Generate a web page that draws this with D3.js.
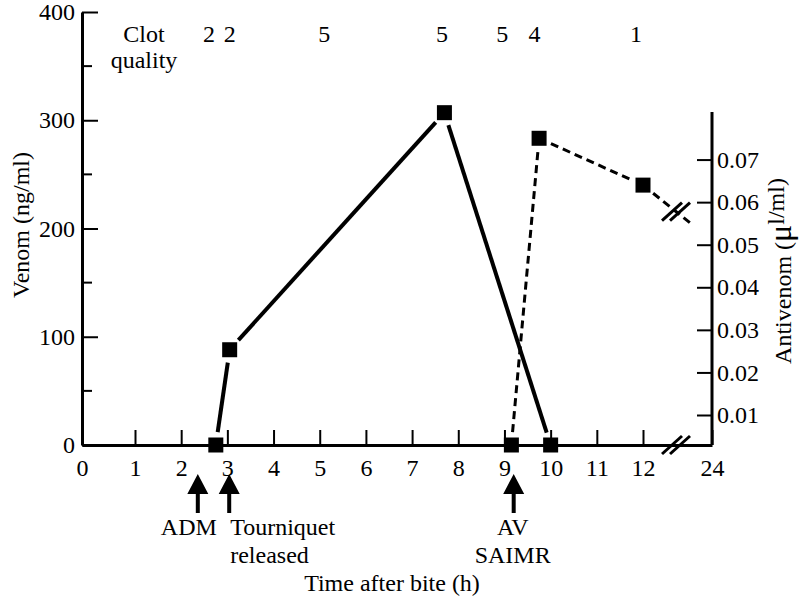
<!doctype html>
<html>
<head>
<meta charset="utf-8"/>
<title>Venom and antivenom</title>
<script src="https://d3js.org/d3.v7.min.js"></script>
<style>
body { margin: 0; background: white; }
svg text { font-family: "Liberation Serif", "Times New Roman", serif; fill: black; }
</style>
</head>
<body>
<svg id="svg1"></svg>
<script>
// data
const venomTime = [2.75, 3.05, 7.7, 10.0]
const venomValue = [0, 88, 307, 0]
const avTime = [9.15, 9.75, 12, 24]
const avValue = [0, 0.075, 0.064, 0.051]   // last point is off the drawn part
const clotTime = [2.6, 3.05, 5.1, 7.65, 8.95, 9.65, 11.85]
const clotScore = ['2', '2', '5', '5', '5', '4', '1']
const eventTime = [2.36, 3.04, 9.2]
const eventLabel = [['ADM'], ['Tourniquet', 'released'], ['AV', 'SAIMR']]
const xTicks = [0, 1, 2, 3, 4, 5, 6, 7, 8, 9, 10, 11, 12, 24]
const yTicks = [0, 100, 200, 300, 400]
const yMinor = [50, 150, 250, 350]
const avTicks = [0.01, 0.02, 0.03, 0.04, 0.05, 0.06, 0.07]

const width = 804
const height = 597
const fs = 24
const serif = '"Liberation Serif", "Times New Roman", serif'

const svg = d3.select('#svg1')
    .attr('width', width)
    .attr('height', height)
    .attr('font-family', serif)

// x axis has a break between 12 and 24 h
const x = d3.scaleLinear().domain([0, 1, 12, 24]).range([82, 135, 643, 712])
const y = d3.scaleLinear().domain([0, 400]).range([445, 12])
const yR = d3.scaleLinear().domain([0, 0.01, 0.08]).range([445, 415, 117])

function styleAxis(g) {
    g.attr('font-family', serif).attr('font-size', fs)
    g.selectAll('.tick line').attr('stroke-width', 2)
    g.select('.domain').attr('stroke-width', 3)
}

// left axis
svg.append('g')
    .attr('transform', `translate(${x(0)},0)`)
    .call(d3.axisLeft(y).tickValues(yTicks).tickSizeInner(-16).tickSizeOuter(0).tickPadding(7))
    .call(styleAxis)
svg.append('g').selectAll('line').data(yMinor).join('line')
    .attr('x1', x(0)).attr('x2', x(0) + 10)
    .attr('y1', d => y(d)).attr('y2', d => y(d))
    .attr('stroke', 'black').attr('stroke-width', 2)

// bottom axis
svg.append('g')
    .attr('transform', `translate(0,${y(0)})`)
    .call(d3.axisBottom(x).tickValues(xTicks).tickFormat(d3.format('d')).tickSizeInner(-15).tickSizeOuter(0).tickPadding(14))
    .call(styleAxis)

// right axis (antivenom)
const gR = svg.append('g')
    .attr('transform', `translate(${x(24)},0)`)
    .call(d3.axisRight(yR).tickValues(avTicks).tickFormat(d3.format('.2f')).tickSizeInner(-15).tickSizeOuter(0).tickPadding(5))
    .call(styleAxis)
gR.select('.domain').remove()
gR.append('line')
    .attr('x1', 0).attr('x2', 0)
    .attr('y1', yR(0)).attr('y2', 112)
    .attr('stroke', 'black').attr('stroke-width', 3)

// break marks
function breakMark(cx, cy) {
    for (const off of [-4, 4]) {
        svg.append('line')
            .attr('x1', cx + off - 10).attr('y1', cy + 9)
            .attr('x2', cx + off + 10).attr('y2', cy - 9)
            .attr('stroke', 'black').attr('stroke-width', 3)
    }
}
breakMark(676, y(0))

// segments between markers, with a gap round each marker
function segments(xs, ys, pad0, pad1) {
    const out = []
    for (let i = 0; i < xs.length - 1; i++) {
        const x0 = xs[i], y0 = ys[i], x1 = xs[i + 1], y1 = ys[i + 1]
        const len = Math.hypot(x1 - x0, y1 - y0)
        const ux = (x1 - x0) / len, uy = (y1 - y0) / len
        const e = i === xs.length - 2 ? pad1 : 13
        out.push([x0 + ux * pad0, y0 + uy * pad0, x1 - ux * e, y1 - uy * e])
    }
    return out
}

const vx = venomTime.map(d => x(d)), vy = venomValue.map(d => y(d))
svg.append('g').selectAll('line').data(segments(vx, vy, 13, 13)).join('line')
    .attr('x1', d => d[0]).attr('y1', d => d[1]).attr('x2', d => d[2]).attr('y2', d => d[3])
    .attr('stroke', 'black').attr('stroke-width', 4)

const ax = avTime.map(d => x(d)), ay = avValue.map(d => yR(d))
svg.append('g').selectAll('line').data(segments(ax, ay, 13, 26)).join('line')
    .attr('x1', d => d[0]).attr('y1', d => d[1]).attr('x2', d => d[2]).attr('y2', d => d[3])
    .attr('stroke', 'black').attr('stroke-width', 3)
    .attr('stroke-dasharray', '8,5')

// break on the dashed line between 12 and 24 h
const bt = (676 - ax[2]) / (ax[3] - ax[2])
breakMark(676, ay[2] + bt * (ay[3] - ay[2]))

// markers
const sq = 15
const pts = venomTime.map((t, i) => [x(t), y(venomValue[i])])
    .concat(avTime.filter(t => t <= 12).map((t, i) => [x(t), yR(avValue[i])]))
svg.append('g').selectAll('rect').data(pts).join('rect')
    .attr('x', d => d[0] - sq / 2).attr('y', d => d[1] - sq / 2)
    .attr('width', sq).attr('height', sq)
    .attr('fill', 'black')

// clot quality row
svg.append('text').attr('x', 144).attr('y', 42).attr('text-anchor', 'middle').attr('font-size', fs).text('Clot')
svg.append('text').attr('x', 144).attr('y', 68).attr('text-anchor', 'middle').attr('font-size', fs).text('quality')
svg.append('g').selectAll('text').data(clotTime).join('text')
    .attr('x', d => x(d)).attr('y', 42)
    .attr('text-anchor', 'middle')
    .attr('font-size', fs)
    .text((d, i) => clotScore[i])

// event arrows
const arrowTip = 474
eventTime.forEach((t, i) => {
    const cx = x(t)
    svg.append('path')
        .attr('d', `M${cx},${arrowTip} L${cx - 10.5},${arrowTip + 20} L${cx - 2},${arrowTip + 20} L${cx - 2},${arrowTip + 39} L${cx + 2},${arrowTip + 39} L${cx + 2},${arrowTip + 20} L${cx + 10.5},${arrowTip + 20} Z`)
        .attr('fill', 'black')
})
const labelDx = [-9, 1, -1]
const labelAnchor = ['middle', 'start', 'middle']
eventLabel.forEach((lines, i) => {
    lines.forEach((s, j) => {
        svg.append('text')
            .attr('x', x(eventTime[i]) + labelDx[i])
            .attr('y', 535 + j * 28)
            .attr('text-anchor', labelAnchor[i])
            .attr('font-size', fs)
            .text(s)
    })
})

// axis titles
svg.append('text')
    .attr('x', 392).attr('y', 591)
    .attr('text-anchor', 'middle')
    .attr('font-size', fs)
    .text('Time after bite (h)')

svg.append('text')
    .attr('transform', 'translate(29,225) rotate(-90)')
    .attr('text-anchor', 'middle')
    .attr('font-size', 24)
    .text('Venom (ng/ml)')

const rt = svg.append('text')
    .attr('transform', 'translate(791,271) rotate(-90)')
    .attr('text-anchor', 'middle')
    .attr('font-size', 24)
rt.append('tspan').text('Antivenom (')
rt.append('tspan').attr('font-size', 32).text('\u03bc')
rt.append('tspan').attr('dy', -7).text('l/ml)')
</script>
</body>
</html>
